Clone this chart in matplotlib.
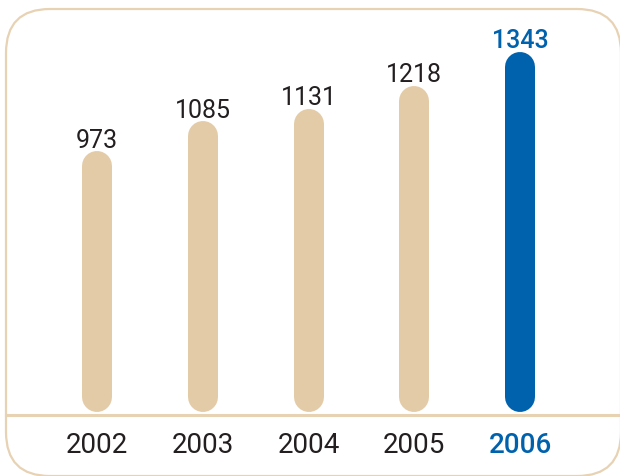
import matplotlib
matplotlib.use("Agg")
import matplotlib.pyplot as plt
from matplotlib.patches import FancyBboxPatch
from matplotlib.lines import Line2D

years = ["2002", "2003", "2004", "2005", "2006"]
values = [973, 1085, 1131, 1218, 1343]
highlight = "2006"

BEIGE = "#E4CBA8"
BORDER = "#E7D2B4"
BLUE = "#0061AC"
DARK = "#231F20"
FONT = ["Roboto", "DejaVu Sans"]

W, H, DPI = 620, 477, 100
fig = plt.figure(figsize=(W / DPI, H / DPI), dpi=DPI)
fig.patch.set_facecolor("white")

# rounded frame in figure-pixel coordinates (origin bottom-left)
frame = FancyBboxPatch((6, 0), 615, 467,
                       boxstyle="round,pad=0,rounding_size=44",
                       transform=None, fill=False, edgecolor=BORDER,
                       linewidth=1.6, zorder=0)
fig.patches.append(frame)

ax = fig.add_axes([0, 0, 1, 1])
ax.set_axis_off()
ppu = 0.268          # pixels per unit
y0 = 413             # pixel row (from top) of value 0
ax.set_ylim((y0 - H) / ppu, y0 / ppu)
x0, dx = 97, 105.8
ax.set_xlim(-x0 / dx, (W - x0) / dx)

bar_px = 30
r_units = (bar_px / 2) / ppu
lw_pt = bar_px * 72 / DPI

for i, (yr, v) in enumerate(zip(years, values)):
    hl = yr == highlight
    c = BLUE if hl else BEIGE
    ax.plot([i, i], [r_units, v - r_units], color=c, lw=lw_pt,
            solid_capstyle="round", zorder=3)
    ax.annotate(f"{v}", (i, v), xytext=(0, 3.3), textcoords="offset points",
                ha="center", va="baseline", fontsize=18,
                fontfamily=FONT,
                fontweight="medium" if hl else "normal",
                color=BLUE if hl else DARK, zorder=4)
    ax.annotate(yr, (i, 0), xytext=(0, -28.8), textcoords="offset points",
                ha="center", va="baseline", fontsize=20,
                fontfamily=FONT,
                fontweight="medium" if hl else "normal",
                color=BLUE if hl else DARK, zorder=4)

# baseline
fig.add_artist(Line2D([6 / W, 1], [(H - 416) / H] * 2, color=BORDER, lw=2.2))

fig.savefig("out.png", dpi=DPI)
